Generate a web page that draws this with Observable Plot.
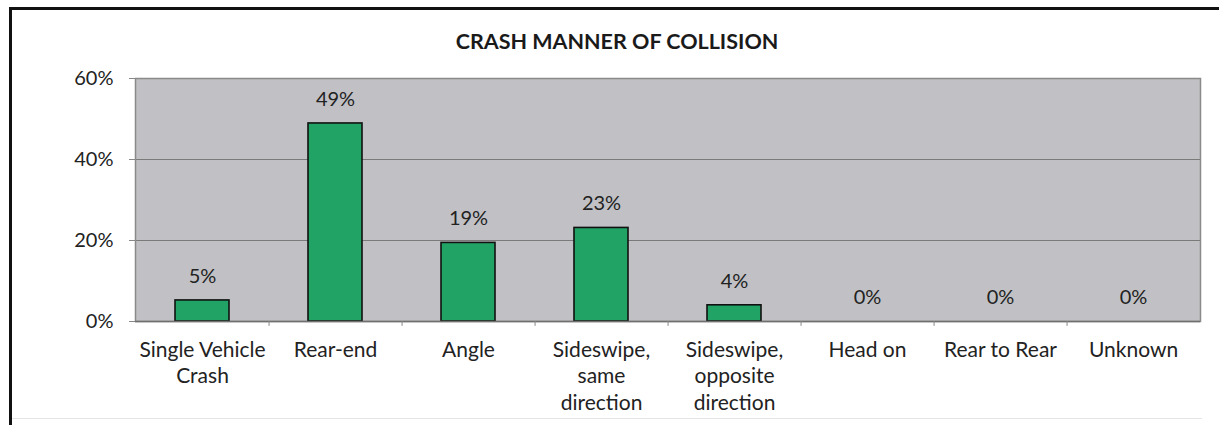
<!DOCTYPE html>
<html>
<head>
<meta charset="utf-8">
<script src="https://cdn.jsdelivr.net/npm/d3@7"></script>
<script src="https://cdn.jsdelivr.net/npm/@observablehq/plot@0.6"></script>
<style>
  html, body { margin: 0; padding: 0; background: #fff; width: 1219px; height: 425px; overflow: hidden; }
  #frame { position: absolute; left: 9px; top: 7px; width: 1230px; height: 440px;
           border-left: 3px solid #111; border-top: 3px solid #111; box-sizing: border-box; }
  #title { position: absolute; left: 0; width: 1234px; top: 28px; text-align: center;
           font-family: Lato, "Open Sans", sans-serif; font-weight: bold; font-size: 21.5px; color: #1a1a1a; }
  #chart { position: absolute; left: 0; top: 60px; }
  #chart svg { font-family: Lato, "Open Sans", sans-serif; }
  #bottomline { position: absolute; left: 12px; top: 418px; width: 1190px; height: 1px; background: #e4e4e4; }
</style>
</head>
<body>
<div id="frame"></div>
<div id="bottomline"></div>
<div id="title">CRASH MANNER OF COLLISION</div>
<div id="chart"></div>
<script>
const categories = ["Single Vehicle Crash", "Rear-end", "Angle", "Sideswipe, same direction",
  "Sideswipe, opposite direction", "Head on", "Rear to Rear", "Unknown"];
const tickLabels = ["Single Vehicle\nCrash", "Rear-end", "Angle", "Sideswipe,\nsame\ndirection",
  "Sideswipe,\nopposite\ndirection", "Head on", "Rear to Rear", "Unknown"];
const values = [5.2, 48.9, 19.4, 23.1, 4.0, 0, 0, 0];
const valueLabels = ["5%", "49%", "19%", "23%", "4%", "0%", "0%", "0%"];
const yTicks = [0, 20, 40, 60];

const data = categories.map((c, i) => ({cat: c, v: values[i], label: valueLabels[i]}));
const labelOf = new Map(categories.map((c, i) => [c, tickLabels[i]]));

const W = 1219, H = 365;
const mL = 135, mR = 19, mT = 18, mB = 104;
const step = (W - mL - mR) / categories.length;

const chart = Plot.plot({
  width: W, height: H,
  marginLeft: mL, marginRight: mR, marginTop: mT, marginBottom: mB,
  style: {background: "transparent", color: "#222", fontSize: "20px"},
  x: {domain: categories, paddingInner: 0.595, paddingOuter: 0.2975, align: 0.5, label: null},
  y: {domain: [0, 60], label: null},
  marks: [
    Plot.frame({fill: "#c1c1c5", stroke: "none"}),
    Plot.gridY(yTicks, {stroke: "#7a7a7a", strokeOpacity: 1, strokeWidth: 1.2}),
    Plot.frame({stroke: "#8a8a8a", strokeWidth: 1.5}),
    Plot.barY(data, {x: "cat", y: "v", fill: "#22a366", stroke: "#111", strokeWidth: 1.6}),
    Plot.text(data, {x: "cat", y: "v", text: "label", dy: -24, fontSize: 20, fill: "#222"}),
    Plot.ruleY([0], {stroke: "#707070", strokeWidth: 1.5}),
    Plot.axisY({ticks: yTicks, tickFormat: d => d + "%", tickSize: 6, tickPadding: 16,
      fontSize: 20, stroke: "#888", fill: "#222", label: null}),
    Plot.ruleX(categories.slice(0, -1), {x: d => d, y1: 0, y2: -1.2, dx: step / 2, stroke: "#888"}),
    Plot.axisX({tickFormat: d => labelOf.get(d), tickSize: 0, tickPadding: 17,
      fontSize: 21, lineHeight: 1.25, fill: "#222", label: null})
  ]
});
document.getElementById("chart").appendChild(chart);
</script>
</body>
</html>
